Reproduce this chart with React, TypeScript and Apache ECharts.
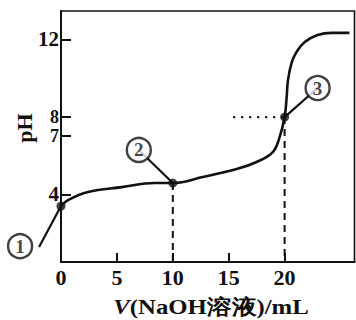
import React, { useEffect, useRef } from "react";
import * as echarts from "echarts";

// Titration curve (V in mL, pH)
const curveV = [0, 0.62, 2.41, 5.45, 8.39, 10, 12.68, 15.71, 17.5, 18.9, 19.5, 20, 20.18, 20.3, 20.63, 21.07, 21.8, 22.95, 24.2, 25.8];
const curvePH = [3.39, 3.7, 4.12, 4.37, 4.58, 4.58, 4.89, 5.3, 5.67, 6.15, 6.85, 7.99, 9.0, 9.9, 10.8, 11.36, 11.87, 12.23, 12.34, 12.34];

// Key points ①②③
const keyV = [0, 10, 20];
const keyPH = [3.39, 4.58, 7.99];
const keyNames = ["1", "2", "3"];
// Annotation circle positions (data coordinates)
const annV = [-3.66, 6.96, 22.95];
const annPH = [1.32, 6.29, 9.49];
// Leader line start positions (data coordinates)
const leadV = [-1.96, 6.96, 22.95];
const leadPH = [1.27, 6.29, 9.49];

const xLabels = [0, 5, 10, 15, 20];
const xTicks = [5, 10, 15, 20];
const yTicks = [4, 7, 8, 12];
const ySmallLabels = [7, 8];
const xMin = 0;
const xMax = 26.25;
const yMin = 0.5;
const yMax = 13.47;
const dottedStartV = 15.4;

const SERIF = "'Liberation Serif', 'DejaVu Serif', serif";
const INK = "#111";

export default function App() {
  const ref = useRef<HTMLDivElement>(null);
  useEffect(() => {
    if (!ref.current) return;
    const chart = echarts.init(ref.current, null, { renderer: "svg" });
    const curve = curveV.map((v, i) => [v, curvePH[i]]);
    chart.setOption({
      animation: false,
      grid: {
        left: 61,
        right: 1.5,
        top: 11,
        bottom: 58,
        show: true,
        borderColor: INK,
        borderWidth: 1.6,
      },
      xAxis: {
        type: "value",
        min: xMin,
        max: xMax,
        splitLine: { show: false },
        axisLine: { lineStyle: { color: INK, width: 2 } },
        axisTick: {
          inside: true,
          length: 9,
          customValues: xTicks,
          lineStyle: { color: INK, width: 2 },
        },
        axisLabel: {
          customValues: xLabels,
          margin: 4,
          color: INK,
          fontFamily: SERIF,
          fontWeight: "bold",
          fontSize: 22,
        },
      },
      yAxis: {
        type: "value",
        min: yMin,
        max: yMax,
        splitLine: { show: false },
        axisLine: { lineStyle: { color: INK, width: 2 } },
        axisTick: {
          inside: true,
          length: 10,
          customValues: yTicks,
          lineStyle: { color: INK, width: 2 },
        },
        axisLabel: {
          customValues: yTicks,
          margin: 2,
          color: INK,
          fontFamily: SERIF,
          fontWeight: "bold",
          fontSize: 21,
          formatter: (v: number) =>
            ySmallLabels.indexOf(v) >= 0 ? `{s|${v}}` : String(v),
          rich: {
            s: {
              fontSize: 18,
              lineHeight: 18,
              fontFamily: SERIF,
              fontWeight: "bold",
              color: INK,
            },
          },
        },
      },
      graphic: [
        {
          type: "text",
          x: 24,
          y: 128,
          rotation: Math.PI / 2,
          style: {
            text: "pH",
            fill: INK,
            font: `bold 22px ${SERIF}`,
            align: "center",
            verticalAlign: "middle",
          },
        },
        {
          type: "text",
          x: 211,
          y: 307,
          scaleX: 1.18,
          style: {
            text: "{i|V}(NaOH溶液)/mL",
            fill: INK,
            font: `bold 21px ${SERIF}`,
            align: "center",
            verticalAlign: "middle",
            rich: {
              i: {
                fontStyle: "italic",
                fontWeight: "bold",
                fontSize: 21,
                fontFamily: SERIF,
                fill: INK,
              },
            },
          },
        },
      ],
      series: [
        {
          type: "line",
          data: curve,
          smooth: 0.4,
          symbol: "none",
          lineStyle: { color: INK, width: 2.6 },
          z: 4,
        },
        {
          type: "line",
          data: [
            [keyV[1], keyPH[1]],
            [keyV[1], yMin],
          ],
          symbol: "none",
          lineStyle: { color: INK, width: 2, type: [7, 5] },
          z: 2,
        },
        {
          type: "line",
          data: [
            [keyV[2], keyPH[2]],
            [keyV[2], yMin],
          ],
          symbol: "none",
          lineStyle: { color: INK, width: 2, type: [7, 5] },
          z: 2,
        },
        {
          type: "line",
          data: [
            [dottedStartV, keyPH[2]],
            [keyV[2], keyPH[2]],
          ],
          symbol: "none",
          lineStyle: { color: INK, width: 2.2, type: [2, 6] },
          z: 2,
        },
        {
          type: "custom",
          clip: false,
          data: keyV.map((v, i) => [leadV[i], leadPH[i], v, keyPH[i]]),
          renderItem: (_p: any, api: any) => {
            const a = api.coord([api.value(0), api.value(1)]);
            const b = api.coord([api.value(2), api.value(3)]);
            return {
              type: "line",
              shape: { x1: a[0], y1: a[1], x2: b[0], y2: b[1] },
              style: { stroke: INK, lineWidth: 2.2 },
            };
          },
          z: 3,
        },
        {
          type: "scatter",
          data: keyV.map((v, i) => [v, keyPH[i]]),
          symbol: "circle",
          symbolSize: 9,
          itemStyle: { color: INK },
          z: 5,
        },
        {
          type: "scatter",
          clip: false,
          data: annV.map((v, i) => ({ value: [v, annPH[i]], name: keyNames[i] })),
          symbol: "circle",
          symbolSize: 24,
          itemStyle: { color: "#fff", borderColor: INK, borderWidth: 2.4 },
          label: {
            show: true,
            position: "inside",
            formatter: (p: any) => p.name,
            color: INK,
            textBorderWidth: 0,
            fontFamily: SERIF,
            fontWeight: "bold",
            fontSize: 19,
          },
          z: 6,
        },
      ],
    });
    return () => chart.dispose();
  }, []);
  return (
    <div
      ref={ref}
      style={{ position: "absolute", left: 0, top: 0, width: 356, height: 320 }}
    />
  );
}
